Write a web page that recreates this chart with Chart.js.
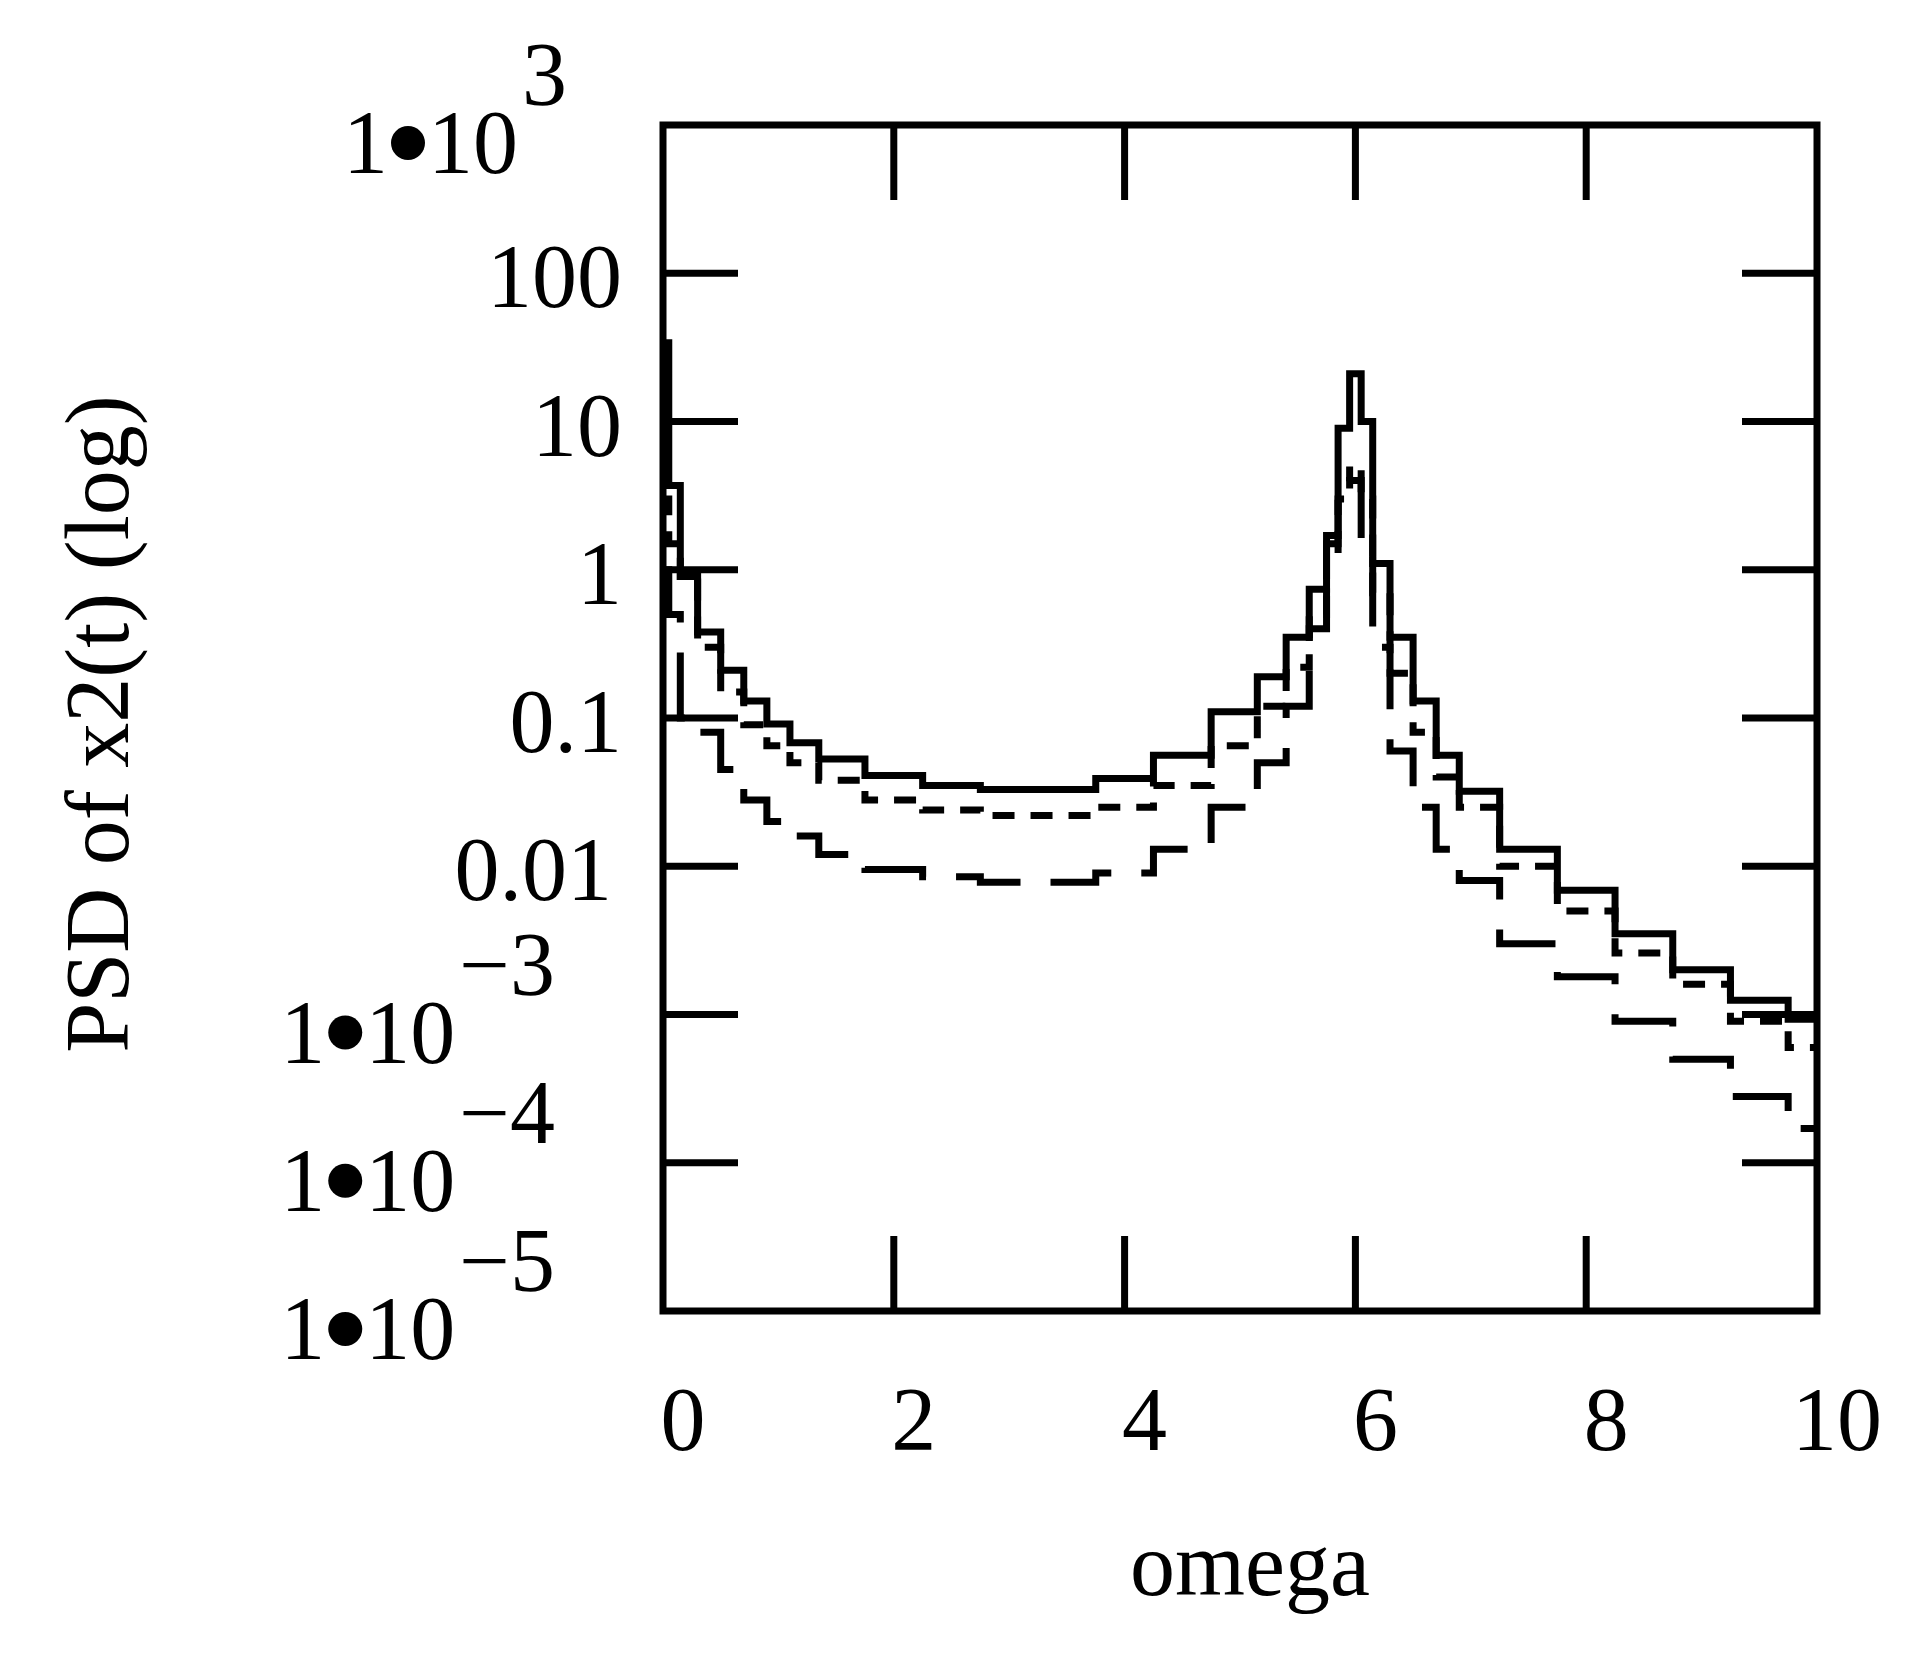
<!DOCTYPE html>
<html><head><meta charset="utf-8">
<script src="https://cdn.jsdelivr.net/npm/chart.js@4/dist/chart.umd.min.js"></script>
<style>html,body{margin:0;background:#fff}#c{display:block}</style>
</head><body>
<canvas id="c" width="1915" height="1664"></canvas>
<script>
// omega grid and three PSD curves
const omega = [0,0.1,0.2,0.4,0.6,0.8,1.0,1.2,1.5,2.0,2.5,3.0,3.5,4.0,4.5,5.0,5.3,5.5,5.7,5.8,5.9,6.0,6.1,6.2,6.4,6.6,6.8,7.0,7.5,8.0,8.5,9.0,9.5,10]
const psdSolid = [34,3.7,0.9,0.38,0.21,0.13,0.091,0.068,0.053,0.041,0.035,0.033,0.033,0.039,0.056,0.11,0.19,0.35,0.74,1.7,9,21,10,1.1,0.35,0.13,0.056,0.032,0.013,0.0069,0.0035,0.002,0.00125,0.00093]
const psdShort = [3,1.5,0.9,0.3,0.15,0.09,0.065,0.05,0.038,0.028,0.024,0.022,0.022,0.025,0.035,0.065,0.12,0.22,0.5,1.2,3,5,3,0.7,0.2,0.08,0.04,0.025,0.01,0.005,0.0026,0.0016,0.0009,0.0006]
const psdLong = [1,0.5,0.1,0.08,0.045,0.028,0.02,0.016,0.012,0.0095,0.0085,0.0078,0.0078,0.009,0.013,0.025,0.05,0.12,0.4,1.5,3,4,1.5,0.3,0.06,0.025,0.013,0.008,0.003,0.0018,0.0009,0.0005,0.00028,0.00017]
const xTicks = [0,2,4,6,8,10]
const yTicks = [1e3,100,10,1,0.1,0.01,1e-3,1e-4,1e-5]
const yPlain = { 100:'100', 10:'10', 1:'1', 0.1:'0.1', 0.01:'0.01' }
const yExp = { 1000:'3', 0.001:'\u22123', 0.0001:'\u22124', 0.00001:'\u22125' }

const FONT = '"Liberation Serif", "DejaVu Serif", serif'
const pts = arr => omega.map((x, i) => ({ x, y: arr[i] }))
const ds = (arr, dash) => ({ data: pts(arr), borderColor: '#000', borderWidth: 7, borderDash: dash, stepped: 'middle', pointRadius: 0, fill: false })

const frame = {
  id: 'frame',
  afterDraw(chart) {
    const { ctx, chartArea: a, scales: { x, y } } = chart
    ctx.save()
    ctx.strokeStyle = '#000'; ctx.lineWidth = 7; ctx.lineCap = 'butt'
    ctx.strokeRect(a.left, a.top, a.right - a.left, a.bottom - a.top)
    const T = 75
    ctx.beginPath()
    xTicks.slice(1, -1).forEach(v => {
      const px = x.getPixelForValue(v)
      ctx.moveTo(px, a.bottom); ctx.lineTo(px, a.bottom - T)
      ctx.moveTo(px, a.top); ctx.lineTo(px, a.top + T)
    })
    yTicks.slice(1, -1).forEach(v => {
      const py = y.getPixelForValue(v)
      ctx.moveTo(a.left, py); ctx.lineTo(a.left + T, py)
      ctx.moveTo(a.right, py); ctx.lineTo(a.right - T, py)
    })
    ctx.stroke()

    ctx.fillStyle = '#000'
    ctx.font = '90px ' + FONT
    ctx.textAlign = 'center'; ctx.textBaseline = 'alphabetic'
    xTicks.forEach(v => ctx.fillText(String(v), x.getPixelForValue(v) + 20, 1450))
    ctx.fillText('omega', 1250, 1595)

    yTicks.forEach(v => {
      const py = y.getPixelForValue(v)
      if (yPlain[v] !== undefined) {
        ctx.textAlign = 'right'
        ctx.fillText(yPlain[v], v === 0.01 ? 612 : 622, py + 34)
      } else {
        const e = yExp[v]
        const base = py + 48
        ctx.textAlign = 'left'
        const ew = ctx.measureText(e).width
        const bw = ctx.measureText('10').width
        const ow = ctx.measureText('1').width
        const start = (v === 1000 ? 567 : 555) - ew - bw - ow - 44
        ctx.fillText('1', start, base)
        ctx.beginPath(); ctx.arc(start + ow + 20, base - 30, 17, 0, Math.PI * 2); ctx.fill()
        ctx.fillText('10', start + ow + 40, base)
        ctx.fillText(e, start + ow + 44 + bw, base - 68)
      }
    })

    ctx.save()
    ctx.translate(128, 724); ctx.rotate(-Math.PI / 2)
    ctx.textAlign = 'center'
    ctx.fillText('PSD of x2(t) (log)', 0, 0)
    ctx.restore()
    ctx.restore()
  }
}

new Chart(document.getElementById('c'), {
  type: 'line',
  data: { datasets: [ds(psdSolid, []), ds(psdShort, [22, 16]), ds(psdLong, [70, 30])] },
  options: {
    responsive: false, animation: false,
    layout: { padding: { left: 663, right: 98, top: 125, bottom: 353 } },
    plugins: { legend: { display: false }, tooltip: { enabled: false } },
    scales: {
      x: { type: 'linear', min: 0, max: 10, display: false },
      y: { type: 'logarithmic', min: 1e-5, max: 1e3, display: false }
    }
  },
  plugins: [frame]
})
</script>
</body></html>
